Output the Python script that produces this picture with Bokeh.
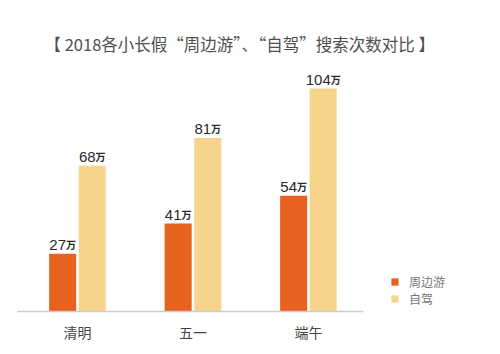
from bokeh.plotting import figure
from bokeh.models import ColumnDataSource, Range1d, Legend, LegendItem, FixedTicker, Title
from bokeh.core.properties import value
from bokeh.embed import file_html
from bokeh.resources import INLINE

categories = ["清明", "五一", "端午"]
series_names = ["周边游", "自驾"]
zbyou = [27, 41, 54]
zijia = [68, 81, 104]
unit_label = "万"
title_text = "【 2018各小长假“周边游”、“自驾”搜索次数对比 】"

ORANGE = "#E8621F"
YELLOW = "#F6D48B"
CJK = "Noto Sans CJK SC"
NUM = "Liberation Sans"

X0, X1, AXIS_END = -0.519, 3.663, 2.476

p = figure(width=500, height=354, output_backend="svg", toolbar_location=None,
           x_range=Range1d(X0, X1), y_range=Range1d(0, 117.1),
           min_border_left=17, min_border_right=0, min_border_bottom=43, min_border_top=60)
p.title = Title(text=title_text, align="left", offset=27, text_font=CJK,
                text_font_size="16.5px", text_font_style="normal", text_color="#505050")
p.outline_line_color = None
p.background_fill_color = "white"
p.xgrid.visible = False
p.ygrid.visible = False
p.yaxis.visible = False

gx = list(range(len(categories)))
off = 0.128
w = 0.234
xs_a = [g - off for g in gx]
xs_b = [g + off for g in gx]

src_a = ColumnDataSource(dict(x=xs_a, top=zbyou, txt=[str(v) for v in zbyou]))
src_b = ColumnDataSource(dict(x=xs_b, top=zijia, txt=[str(v) for v in zijia]))

ra = p.vbar(x="x", top="top", width=w, bottom=0, source=src_a, fill_color=ORANGE, line_color=None)
rb = p.vbar(x="x", top="top", width=w, bottom=0, source=src_b, fill_color=YELLOW, line_color=None)

DIGIT_W = 8.34
UNIT_W = 10.0
for src, vals in ((src_a, zbyou), (src_b, zijia)):
    offs = [(len(str(v)) * DIGIT_W + UNIT_W) / 2 - UNIT_W for v in vals]
    src.data["noff"] = offs
    src.data["u"] = [unit_label] * len(vals)
    p.text(x="x", y="top", text="txt", x_offset="noff", y_offset=-9, source=src,
           text_align="right", text_baseline="alphabetic", text_font=value(NUM),
           text_font_size="15px", text_color="#2a2a2a")
    p.text(x="x", y="top", text="u", x_offset="noff", y_offset=-9, source=src,
           text_align="left", text_baseline="alphabetic", text_font=value(CJK),
           text_font_size="10px", text_font_style="bold", text_color="#2a2a2a")

xa = p.xaxis[0]
xa.bounds = (X0, AXIS_END)
xa.ticker = FixedTicker(ticks=gx)
xa.major_label_overrides = {g: c for g, c in zip(gx, categories)}
xa.major_tick_line_color = None
xa.minor_tick_line_color = None
xa.axis_line_color = "#cccccc"
xa.axis_line_width = 1.5
xa.major_label_text_font = CJK
xa.major_label_text_font_size = "14px"
xa.major_label_text_color = "#444444"
xa.major_label_standoff = 4

legend = Legend(items=[LegendItem(label=series_names[0], renderers=[ra]),
                       LegendItem(label=series_names[1], renderers=[rb])],
                location=(373, 4), orientation="vertical")
legend.border_line_color = None
legend.background_fill_alpha = 0
legend.padding = 0
legend.margin = 0
legend.spacing = 0
legend.glyph_width = 9
legend.glyph_height = 9
legend.label_height = 9
legend.label_standoff = 10
legend.label_text_font = CJK
legend.label_text_font_size = "12px"
legend.label_text_color = "#777777"
legend.label_text_baseline = "middle"
p.add_layout(legend)

open("out.html", "w").write(file_html(p, INLINE))
